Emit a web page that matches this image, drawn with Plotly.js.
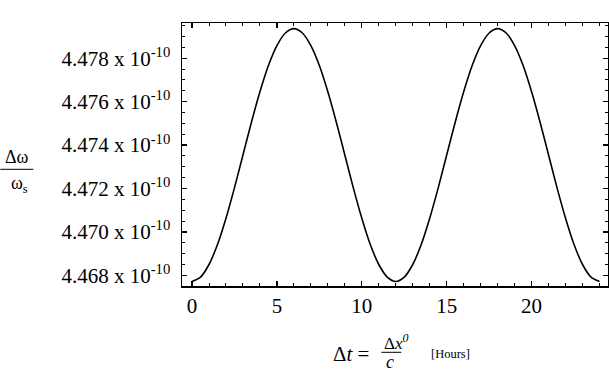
<!DOCTYPE html>
<html>
<head>
<meta charset="utf-8">
<script src="https://cdn.plot.ly/plotly-3.0.1.min.js"></script>
<style>
  html, body { margin: 0; padding: 0; background: #fff; }
  #chart { width: 609px; height: 375px; }
</style>
</head>
<body>
<div id="chart"></div>
<script>
// Δt in hours (half-hour readings)
var hours = [0, 0.5, 1, 1.5, 2, 2.5, 3, 3.5, 4, 4.5, 5, 5.5, 6, 6.5, 7, 7.5, 8, 8.5, 9, 9.5, 10, 10.5, 11, 11.5, 12,
             12.5, 13, 13.5, 14, 14.5, 15, 15.5, 16, 16.5, 17, 17.5, 18, 18.5, 19, 19.5, 20, 20.5, 21, 21.5, 22, 22.5, 23, 23.5, 24];
// Δω/ωs in units of 1e-10
var ratio = [4.46772, 4.46792, 4.46850, 4.46942, 4.47063, 4.47203, 4.47354, 4.47505, 4.47645, 4.47766, 4.47858, 4.47916, 4.47936,
             4.47916, 4.47858, 4.47766, 4.47645, 4.47505, 4.47354, 4.47203, 4.47063, 4.46942, 4.46850, 4.46792, 4.46772,
             4.46792, 4.46850, 4.46942, 4.47063, 4.47203, 4.47354, 4.47505, 4.47645, 4.47766, 4.47858, 4.47916, 4.47936,
             4.47916, 4.47858, 4.47766, 4.47645, 4.47505, 4.47354, 4.47203, 4.47063, 4.46942, 4.46850, 4.46792, 4.46772];
var yTicks = [4.468, 4.470, 4.472, 4.474, 4.476, 4.478];
var yTickText = ['4.468', '4.470', '4.472', '4.474', '4.476', '4.478'];

CHART = document.getElementById('chart');

var trace1 = {
  x: hours,
  y: ratio,
  type: 'scatter',
  mode: 'lines',
  line: {color: '#000', width: 1.6, shape: 'spline', smoothing: 0.8},
  hoverinfo: 'skip'
};

// plot area: left 181.7, right 607.7, top 23.3, bottom 285.7
var L = 181.7, B = 285.7;
function ann(text, px, py, size) {
  return {
    text: text, xref: 'paper', yref: 'paper', x: 0, y: 0,
    xshift: px - L, yshift: B - py,
    xanchor: 'center', yanchor: 'middle', showarrow: false,
    font: {family: 'Liberation Serif', size: size, color: '#000'}
  };
}
function bar(x0, x1, py) {
  return {
    type: 'line', xref: 'paper', yref: 'paper',
    xsizemode: 'pixel', ysizemode: 'pixel', xanchor: 0, yanchor: 0,
    x0: x0 - L, x1: x1 - L, y0: B - py, y1: B - py,
    line: {color: '#000', width: 1}
  };
}

var serif = {family: 'Liberation Serif', size: 20, color: '#000'};

var layout = {
  width: 609, height: 375,
  margin: {l: 181.7, r: 1.3, t: 23.3, b: 89.3},
  plot_bgcolor: '#fff',
  paper_bgcolor: '#fff',
  showlegend: false,
  font: serif,
  xaxis: {
    range: [-0.59, 24.5],
    tickvals: [0, 5, 10, 15, 20],
    ticks: 'inside', ticklen: 5, tickwidth: 1.2, tickcolor: '#000',
    minor: {dtick: 1, ticks: 'inside', ticklen: 3, tickwidth: 1, tickcolor: '#000'},
    showline: true, linecolor: '#000', linewidth: 1.5, mirror: 'allticks',
    showgrid: false, zeroline: false,
    ticklabelstandoff: 0,
    tickfont: {family: 'Liberation Serif', size: 21, color: '#000'}
  },
  yaxis: {
    range: [4.46751, 4.47962],
    tickvals: yTicks,
    ticktext: yTickText.map(function (t) { return t + ' x 10<sup>-10</sup>'; }),
    ticks: 'inside', ticklen: 5, tickwidth: 1.2, tickcolor: '#000',
    minor: {dtick: 0.0005, ticks: 'inside', ticklen: 3, tickwidth: 1, tickcolor: '#000'},
    showline: true, linecolor: '#000', linewidth: 1.5, mirror: 'allticks',
    showgrid: false, zeroline: false,
    ticklabelstandoff: 6,
    tickfont: {family: 'Liberation Serif', size: 21, color: '#000'}
  },
  annotations: [
    ann('Δω', 17, 157, 18),
    ann('ω<sub>s</sub>', 19, 184, 18),
    ann('Δ<i>t</i> =', 351, 354, 21),
    ann('Δ<i>x</i><sup><i>0</i></sup>', 396, 342, 17),
    ann('<i>c</i>', 390, 362, 18),
    ann('[Hours]', 450, 354, 12.5)
  ],
  shapes: [
    bar(0, 33, 169),
    bar(381, 401, 352)
  ]
};

Plotly.newPlot(CHART, [trace1], layout, {displayModeBar: false, staticPlot: true});
</script>
</body>
</html>
